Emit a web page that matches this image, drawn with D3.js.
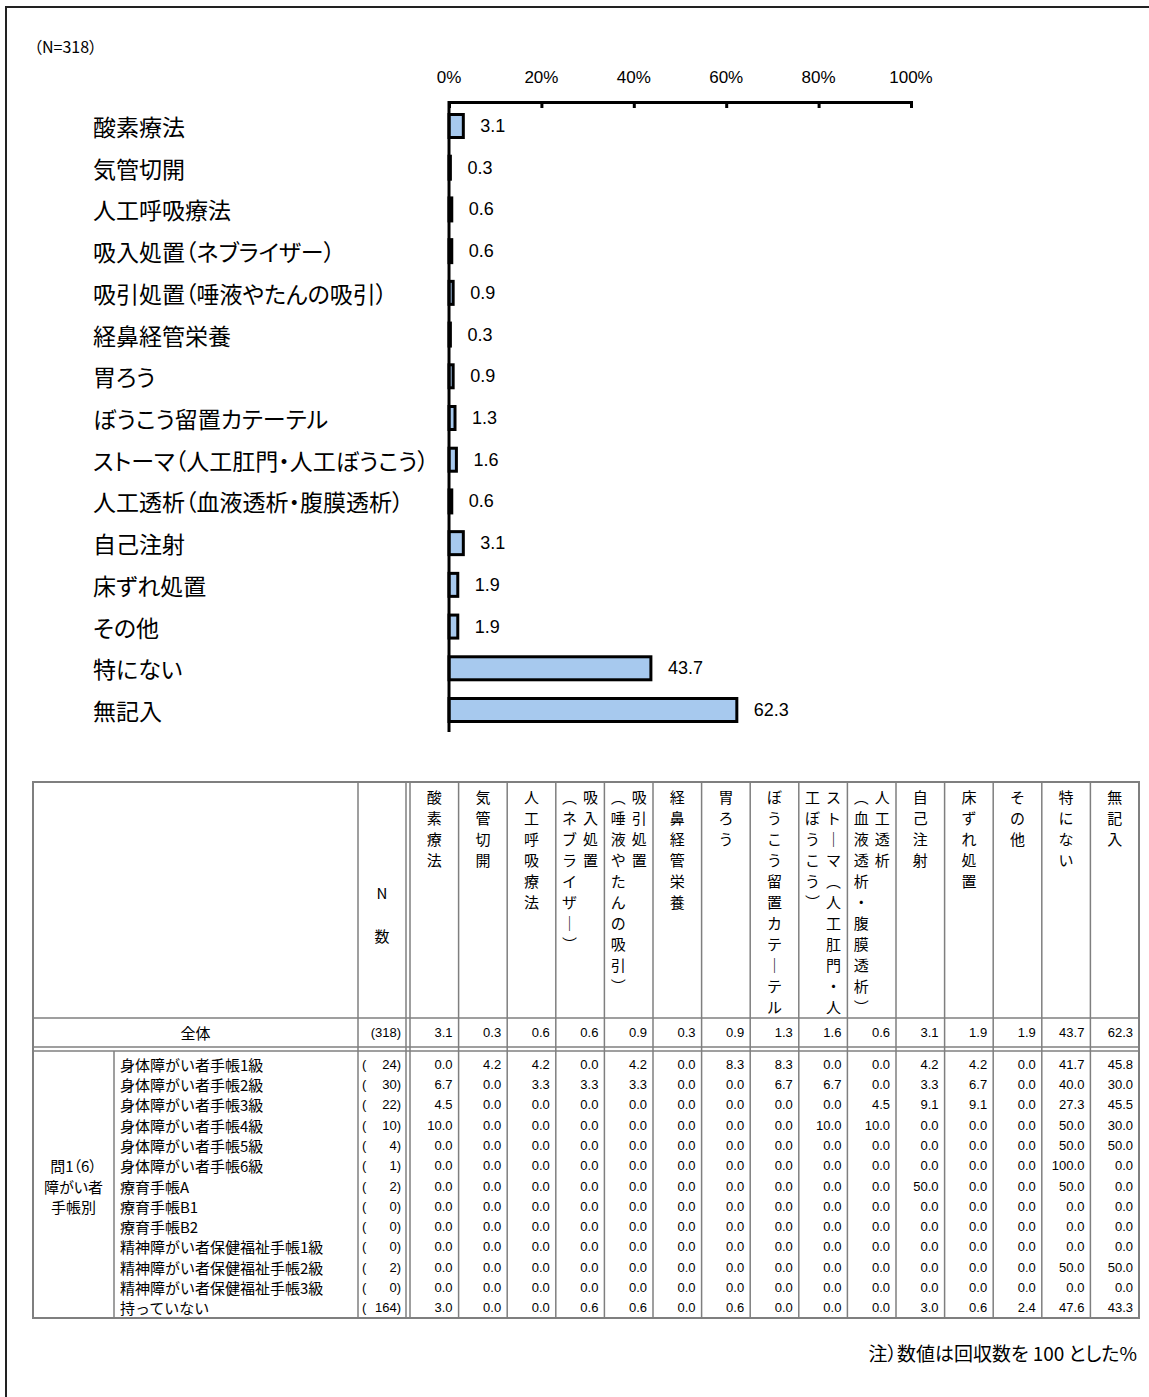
<!DOCTYPE html>
<html><head><meta charset="utf-8">
<script src="https://cdn.jsdelivr.net/npm/d3@7"></script>
<style>body{margin:0;background:#fff}svg{display:block}</style>
</head><body><svg id="c" width="1149" height="1397"></svg>
<script>
// ---------- data ----------
const title = "（N=318）";
const categories = ["酸素療法","気管切開","人工呼吸療法","吸入処置（ネブライザー）","吸引処置（唾液やたんの吸引）","経鼻経管栄養","胃ろう","ぼうこう留置カテーテル","ストーマ（人工肛門・人工ぼうこう）","人工透析（血液透析・腹膜透析）","自己注射","床ずれ処置","その他","特にない","無記入"];
const values = [3.1,0.3,0.6,0.6,0.9,0.3,0.9,1.3,1.6,0.6,3.1,1.9,1.9,43.7,62.3];
const xTicks = [0,20,40,60,80,100];
const xTickLabels = ["0%","20%","40%","60%","80%","100%"];
// table header: vertical text columns (right column first)
const headerCols = [["酸素療法"],["気管切開"],["人工呼吸療法"],["吸入処置","（ネブライザー）"],["吸引処置","（唾液やたんの吸引）"],["経鼻経管栄養"],["胃ろう"],["ぼうこう留置カテーテル"],["ストーマ（人工肛門・人","工ぼうこう）"],["人工透析","（血液透析・腹膜透析）"],["自己注射"],["床ずれ処置"],["その他"],["特にない"],["無記入"]];
const nHeader = ["N","数"];
const totalLabel = "全体";
const totalN = 318;
const totalValues = [3.1,0.3,0.6,0.6,0.9,0.3,0.9,1.3,1.6,0.6,3.1,1.9,1.9,43.7,62.3];
const groupLabel = ["問1（6）","障がい者","手帳別"];
const rowLabels = ["身体障がい者手帳1級","身体障がい者手帳2級","身体障がい者手帳3級","身体障がい者手帳4級","身体障がい者手帳5級","身体障がい者手帳6級","療育手帳A","療育手帳B1","療育手帳B2","精神障がい者保健福祉手帳1級","精神障がい者保健福祉手帳2級","精神障がい者保健福祉手帳3級","持っていない"];
const rowN = [24,30,22,10,4,1,2,0,0,0,2,0,164];
const rowValues = [
 [0.0,4.2,4.2,0.0,4.2,0.0,8.3,8.3,0.0,0.0,4.2,4.2,0.0,41.7,45.8],
 [6.7,0.0,3.3,3.3,3.3,0.0,0.0,6.7,6.7,0.0,3.3,6.7,0.0,40.0,30.0],
 [4.5,0.0,0.0,0.0,0.0,0.0,0.0,0.0,0.0,4.5,9.1,9.1,0.0,27.3,45.5],
 [10.0,0.0,0.0,0.0,0.0,0.0,0.0,0.0,10.0,10.0,0.0,0.0,0.0,50.0,30.0],
 [0.0,0.0,0.0,0.0,0.0,0.0,0.0,0.0,0.0,0.0,0.0,0.0,0.0,50.0,50.0],
 [0.0,0.0,0.0,0.0,0.0,0.0,0.0,0.0,0.0,0.0,0.0,0.0,0.0,100.0,0.0],
 [0.0,0.0,0.0,0.0,0.0,0.0,0.0,0.0,0.0,0.0,50.0,0.0,0.0,50.0,0.0],
 [0.0,0.0,0.0,0.0,0.0,0.0,0.0,0.0,0.0,0.0,0.0,0.0,0.0,0.0,0.0],
 [0.0,0.0,0.0,0.0,0.0,0.0,0.0,0.0,0.0,0.0,0.0,0.0,0.0,0.0,0.0],
 [0.0,0.0,0.0,0.0,0.0,0.0,0.0,0.0,0.0,0.0,0.0,0.0,0.0,0.0,0.0],
 [0.0,0.0,0.0,0.0,0.0,0.0,0.0,0.0,0.0,0.0,0.0,0.0,0.0,50.0,50.0],
 [0.0,0.0,0.0,0.0,0.0,0.0,0.0,0.0,0.0,0.0,0.0,0.0,0.0,0.0,0.0],
 [3.0,0.0,0.0,0.6,0.6,0.0,0.6,0.0,0.0,0.0,3.0,0.6,2.4,47.6,43.3]
];
const note = "注）数値は回収数を 100 とした%";

// ---------- drawing ----------
const JP = "'Noto Sans CJK JP','Noto Sans',sans-serif";
const NUM = "'Liberation Sans',Arial,sans-serif";
const svg = d3.select("#c");

// outer frame (runs off the right and bottom edge)
svg.append("rect").attr("x",6).attr("y",7).attr("width",1300).attr("height",1600)
  .attr("fill","none").attr("stroke","#222").attr("stroke-width",2);

svg.append("text").attr("x",34).attr("y",46).attr("dominant-baseline","central")
  .style("font-family",JP).style("font-size","16px").style("font-feature-settings","'palt'").text(title);

// ---- bar chart ----
const x = d3.scaleLinear().domain([0,100]).range([449,911]);
const y = d3.scalePoint().domain(categories).range([126,710]);
const barH = 23;

const axisG = svg.append("g").attr("transform","translate(0,102)")
  .call(d3.axisBottom(x).tickValues(xTicks).tickSize(6).tickSizeOuter(6).tickFormat(""));
axisG.select(".domain").attr("stroke","#000").attr("stroke-width",3);
axisG.selectAll(".tick line").attr("stroke","#000").attr("stroke-width",3);

svg.append("g").selectAll("text").data(xTicks).join("text")
  .attr("x",d=>x(d)).attr("y",77).attr("text-anchor","middle").attr("dominant-baseline","central")
  .style("font-family",NUM).style("font-size","17px").text((d,i)=>xTickLabels[i]);

svg.append("g").selectAll("rect").data(categories).join("rect")
  .attr("x",x(0)).attr("y",d=>y(d)-barH/2)
  .attr("width",(d,i)=>x(values[i])-x(0)).attr("height",barH)
  .attr("fill","#a7c9ee").attr("stroke","#000").attr("stroke-width",3);

svg.append("line").attr("x1",x(0)).attr("x2",x(0)).attr("y1",101).attr("y2",y.range()[1]+22)
  .attr("stroke","#000").attr("stroke-width",3);

svg.append("g").selectAll("text").data(categories).join("text")
  .attr("x",(d,i)=>x(values[i])+17).attr("y",d=>y(d)).attr("dominant-baseline","central")
  .style("font-family",NUM).style("font-size","18px").text((d,i)=>values[i].toFixed(1));

svg.append("g").selectAll("text").data(categories).join("text")
  .attr("x",93).attr("y",d=>y(d)).attr("dominant-baseline","central")
  .style("font-family",JP).style("font-size","23px").style("font-feature-settings","'palt'").text(d=>d);

// ---- table ----
const T = {left:33, groupRight:114, nLeft:358, dataLeft:410, right:1139,
           top:782, headBottom:1018, totalBottom:1047, bodyTop:1051, bottom:1318};
const col = d3.scaleBand().domain(d3.range(headerCols.length)).range([T.dataLeft,T.right]);
const row = d3.scaleBand().domain(d3.range(rowLabels.length)).range([T.bodyTop+3,T.bottom]);
const LC = "#7f7f7f";
const tg = svg.append("g");
function ln(x1,y1,x2,y2,w){tg.append("line").attr("x1",x1).attr("y1",y1).attr("x2",x2).attr("y2",y2).attr("stroke",LC).attr("stroke-width",w||1.5);}

tg.append("rect").attr("x",T.left).attr("y",T.top).attr("width",T.right-T.left).attr("height",T.bottom-T.top)
  .attr("fill","none").attr("stroke",LC).attr("stroke-width",2);
ln(T.left,T.headBottom,T.right,T.headBottom);
ln(T.left,T.totalBottom,T.right,T.totalBottom);
ln(T.left,T.bodyTop,T.right,T.bodyTop);
ln(T.groupRight,T.bodyTop,T.groupRight,T.bottom);
ln(T.nLeft,T.top,T.nLeft,T.bottom);
ln(T.dataLeft-4,T.top,T.dataLeft-4,T.bottom);
ln(T.dataLeft,T.top,T.dataLeft,T.bottom);
d3.range(1,headerCols.length).forEach(i=>ln(col(i),T.top,col(i),T.bottom));

// vertical header text
const vmap = {"（":"︵","）":"︶","ー":"｜"};
const charStep = 21, firstChar = T.top+14;
headerCols.forEach((cols,i)=>{
  const cx = col(i)+col.bandwidth()/2;
  const n = cols.length;
  cols.forEach((s,k)=>{
    const xx = n===1 ? cx : cx + (k===0 ? 10.5 : -10.5);
    Array.from(s).forEach((ch,j)=>{
      tg.append("text").attr("x",xx).attr("y",firstChar+j*charStep)
        .attr("text-anchor","middle").attr("dominant-baseline","central")
        .style("font-family",JP).style("font-size","15px").text(vmap[ch]||ch);
    });
  });
});
const nCx = (T.nLeft+T.dataLeft-4)/2;
nHeader.forEach((s,j)=>tg.append("text").attr("x",nCx).attr("y",892+j*43)
  .attr("text-anchor","middle").attr("dominant-baseline","central")
  .style("font-family",JP).style("font-size","15px").text(s));

// total row
const totY = (T.headBottom+T.totalBottom)/2;
tg.append("text").attr("x",(T.left+T.nLeft)/2).attr("y",totY).attr("text-anchor","middle")
  .attr("dominant-baseline","central").style("font-family",JP).style("font-size","15px").text(totalLabel);
tg.append("text").attr("x",T.dataLeft-9).attr("y",totY).attr("text-anchor","end")
  .attr("dominant-baseline","central").style("font-family",NUM).style("font-size","13px").text("("+totalN+")");
tg.append("g").selectAll("text").data(totalValues).join("text")
  .attr("x",(d,i)=>col(i)+col.bandwidth()-6).attr("y",totY).attr("text-anchor","end")
  .attr("dominant-baseline","central").style("font-family",NUM).style("font-size","13px").text(d=>d.toFixed(1));

// body
const rc = i=>row(i)+row.bandwidth()/2;
const mid = Math.floor(rowLabels.length/2);
groupLabel.forEach((s,k)=>tg.append("text").attr("x",(T.left+T.groupRight)/2).attr("y",rc(mid-1+k))
  .attr("text-anchor","middle").attr("dominant-baseline","central")
  .style("font-family",JP).style("font-size","15px").style("font-feature-settings","'palt'").text(s));
rowLabels.forEach((s,i)=>{
  tg.append("text").attr("x",T.groupRight+6).attr("y",rc(i)).attr("dominant-baseline","central")
    .style("font-family",JP).style("font-size","15px").text(s);
  tg.append("text").attr("x",T.nLeft+4).attr("y",rc(i)).attr("dominant-baseline","central")
    .style("font-family",NUM).style("font-size","13px").text("(");
  tg.append("text").attr("x",T.dataLeft-9).attr("y",rc(i)).attr("text-anchor","end").attr("dominant-baseline","central")
    .style("font-family",NUM).style("font-size","13px").text(rowN[i]+")");
  tg.append("g").selectAll("text").data(rowValues[i]).join("text")
    .attr("x",(d,j)=>col(j)+col.bandwidth()-6).attr("y",rc(i)).attr("text-anchor","end")
    .attr("dominant-baseline","central").style("font-family",NUM).style("font-size","13px").text(d=>d.toFixed(1));
});

svg.append("text").attr("x",1137).attr("y",1352).attr("text-anchor","end").attr("dominant-baseline","central")
  .style("font-family",JP).style("font-size","19px").style("font-feature-settings","'palt'").text(note);
</script></body></html>
